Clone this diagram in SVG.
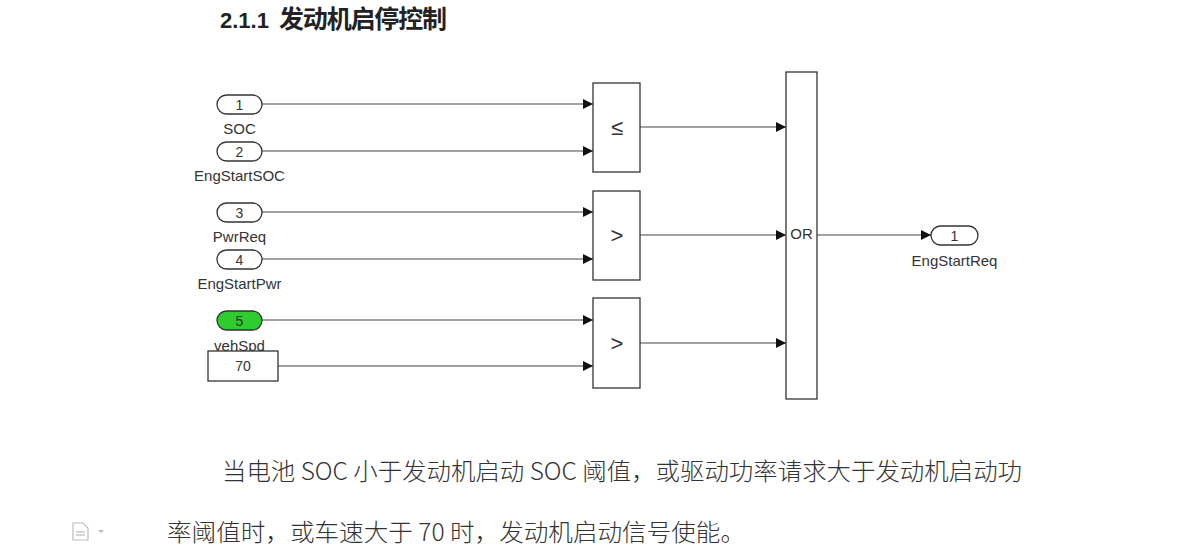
<svg xmlns="http://www.w3.org/2000/svg" width="1188" height="557" viewBox="0 0 1188 557">
<style>
.blk{fill:#fff;stroke:#333;stroke-width:1.3}
.port{fill:#fff;stroke:#333;stroke-width:1.3}
.wire{stroke:#444;stroke-width:1.1;fill:none}
.lbl{font-family:"Liberation Sans",Arial,sans-serif;font-size:15px;fill:#333;text-anchor:middle}
.num{font-family:"Liberation Sans",Arial,sans-serif;font-size:14px;fill:#333;text-anchor:middle}
.op{font-family:"Liberation Sans",Arial,sans-serif;font-size:22px;fill:#333;text-anchor:middle}
.body{font-family:"Noto Sans CJK SC","Noto Sans",sans-serif;font-size:24px;fill:#333;font-weight:300}
</style>
<defs>
<marker id="arr" markerWidth="10" markerHeight="10" refX="10" refY="5" orient="auto" markerUnits="userSpaceOnUse">
<path d="M0,0 L10,5 L0,10 Z" fill="#111"/>
</marker>
</defs>
<rect width="1188" height="557" fill="#fff"/>
<text x="220" y="28" font-family="Liberation Sans,Arial,sans-serif" font-weight="bold" font-size="22" fill="#222">2.1.1</text>
<text x="279" y="28" font-family="Noto Sans CJK SC,sans-serif" font-weight="bold" font-size="25" fill="#222" textLength="168" lengthAdjust="spacing">发动机启停控制</text>

<g id="connectors">
<line class="wire" x1="262" y1="104" x2="593" y2="104" marker-end="url(#arr)"/>
<line class="wire" x1="262" y1="151" x2="593" y2="151" marker-end="url(#arr)"/>
<line class="wire" x1="262" y1="212" x2="593" y2="212" marker-end="url(#arr)"/>
<line class="wire" x1="262" y1="259" x2="593" y2="259" marker-end="url(#arr)"/>
<line class="wire" x1="262" y1="320" x2="593" y2="320" marker-end="url(#arr)"/>
<line class="wire" x1="278" y1="366" x2="593" y2="366" marker-end="url(#arr)"/>
<line class="wire" x1="640" y1="127" x2="786" y2="127" marker-end="url(#arr)"/>
<line class="wire" x1="640" y1="235" x2="786" y2="235" marker-end="url(#arr)"/>
<line class="wire" x1="640" y1="343" x2="786" y2="343" marker-end="url(#arr)"/>
<line class="wire" x1="817" y1="235" x2="931" y2="235" marker-end="url(#arr)"/>
</g>

<g id="in1"><rect class="port" x="217" y="95" width="45" height="19" rx="9.5"/><text class="num" x="239.5" y="109.5">1</text><text class="lbl" x="239.5" y="134">SOC</text></g>
<g id="in2"><rect class="port" x="217" y="142" width="45" height="19" rx="9.5"/><text class="num" x="239.5" y="156.5">2</text><text class="lbl" x="239.5" y="181">EngStartSOC</text></g>
<g id="in3"><rect class="port" x="217" y="203" width="45" height="19" rx="9.5"/><text class="num" x="239.5" y="217.5">3</text><text class="lbl" x="239.5" y="242">PwrReq</text></g>
<g id="in4"><rect class="port" x="217" y="250" width="45" height="19" rx="9.5"/><text class="num" x="239.5" y="264.5">4</text><text class="lbl" x="239.5" y="289">EngStartPwr</text></g>
<g id="in5"><rect x="217" y="311" width="45" height="19" rx="9.5" fill="#2ecc2e" stroke="#333" stroke-width="1.3"/><text class="num" x="239.5" y="325.5">5</text><text class="lbl" x="239.5" y="351">vehSpd</text></g>
<g id="const70"><rect class="blk" x="208" y="351" width="70" height="30"/><text class="num" x="243" y="371">70</text></g>

<g id="cmp1"><rect class="blk" x="593" y="83" width="47" height="89"/><text class="op" x="617" y="135">≤</text></g>
<g id="cmp2"><rect class="blk" x="593" y="191" width="47" height="89"/><text class="op" x="617" y="243">&gt;</text></g>
<g id="cmp3"><rect class="blk" x="593" y="298" width="47" height="90"/><text class="op" x="617" y="351">&gt;</text></g>

<g id="or"><rect class="blk" x="786" y="72" width="31" height="327"/><text class="lbl" x="801.5" y="239" font-size="11">OR</text></g>

<g id="out1"><rect class="port" x="931" y="226" width="47" height="19" rx="9.5"/><text class="num" x="954.5" y="240.5">1</text><text class="lbl" x="954.5" y="266">EngStartReq</text></g>

<text class="body" x="222" y="480" textLength="800" lengthAdjust="spacingAndGlyphs">当电池 SOC 小于发动机启动 SOC 阈值，或驱动功率请求大于发动机启动功</text>
<text class="body" x="167" y="541" textLength="578" lengthAdjust="spacingAndGlyphs">率阈值时，或车速大于 70 时，发动机启动信号使能。</text>

<g id="docicon" fill="none" stroke="#bbb" stroke-width="1.2">
<path d="M73,523 L83,523 L88,528 L88,540 L73,540 Z"/>
<line x1="76" y1="532" x2="85" y2="532"/><line x1="76" y1="535" x2="85" y2="535"/>
<path d="M98,530 L104,530 L101,533 Z" fill="#bbb" stroke="none"/>
</g>
</svg>
